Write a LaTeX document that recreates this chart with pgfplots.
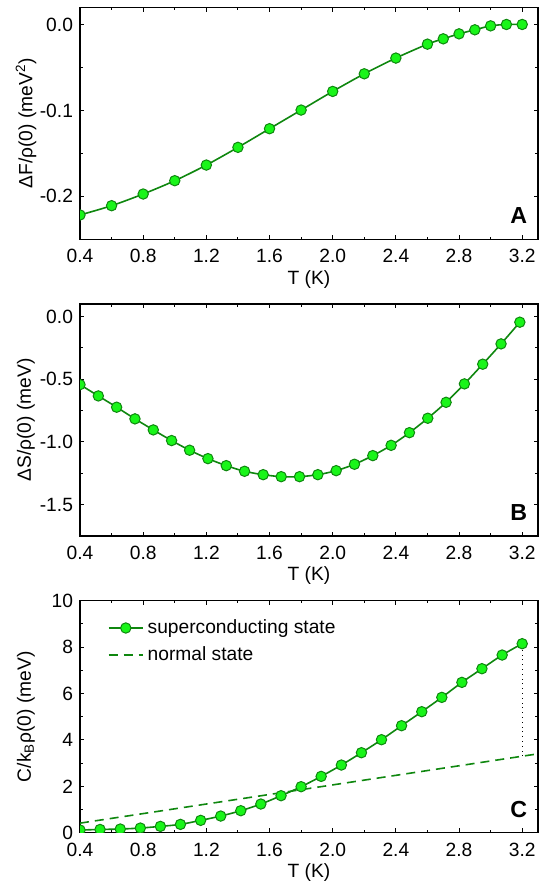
\documentclass[border=0pt]{standalone}
\usepackage{fontspec}
\setmainfont{Liberation Sans}
\usepackage{pgfplots}
\pgfplotsset{compat=1.18}
\definecolor{mfill}{RGB}{25,245,25}
\definecolor{mline}{RGB}{15,135,15}
\newcommand{\fs}{\fontsize{9.6}{11.5}\selectfont}
\tikzset{plabel/.style={anchor=south east, font=\bfseries\fontsize{11.6}{13}\selectfont, inner sep=0pt}}
\pgfplotsset{
  panel/.style={
    scale only axis, width=229pt, height=116pt,
    anchor=north west,
    xmin=0.4, xmax=3.3,
    xtick={0.4,0.8,1.2,1.6,2.0,2.4,2.8,3.2},
    minor x tick num=1, minor y tick num=1,
    tick align=inside,
    clip marker paths=true,
    major tick length=2.2pt, minor tick length=1.3pt,
    every tick/.style={black, line width=0.5pt},
    axis line style={line width=0.65pt},
    /pgf/number format/assume math mode=true,
    xticklabel style={font=\fs, yshift=-1.5pt, /pgf/number format/.cd, fixed, fixed zerofill, precision=1},
    yticklabel style={font=\fs},
    xlabel={T (K)},
    xlabel style={font=\fs, at={(axis description cs:0.5,0)}, anchor=center, yshift=-20pt},
    ylabel style={font=\fs, at={(axis description cs:-0.118,0.5)}, anchor=center},
  },
  sc/.style={mline, line width=0.8pt, mark=*, mark size=2.6pt,
    mark options={fill=mfill, draw=mline, line width=0.5pt}},
}
\begin{document}
\begin{tikzpicture}
\useasboundingbox (0,0) rectangle (271.5pt,-443pt);
% Panel A
\begin{axis}[panel, at={(40pt,-3.65pt)},
  ymin=-0.25, ymax=0.02, ytick={-0.2,-0.1,0},
  yticklabel style={/pgf/number format/.cd, fixed, fixed zerofill, precision=1},
  ylabel={ΔF/ρ(0) (meV\textsuperscript{2})}]
\addplot[sc, smooth] coordinates {
(0.4,-0.2217) (0.6,-0.2109) (0.8,-0.1973) (1.0,-0.1818) (1.2,-0.1636)
(1.4,-0.1430) (1.6,-0.1213) (1.8,-0.0996) (2.0,-0.0779) (2.2,-0.0574)
(2.4,-0.0391) (2.6,-0.0229) (2.7,-0.0167) (2.8,-0.0109) (2.9,-0.0062)
(3.0,-0.0016) (3.1,0.0) (3.2,0.0)};
\node[plabel] at (rel axis cs:0.977,0.065) {A};
\end{axis}
% Panel B
\begin{axis}[panel, at={(40pt,-152pt)},
  ymin=-1.75, ymax=0.1, ytick={-1.5,-1.0,-0.5,0},
  yticklabel style={/pgf/number format/.cd, fixed, fixed zerofill, precision=1},
  ylabel={ΔS/ρ(0) (meV)}]
\addplot[sc, smooth] coordinates {
(0.400,-0.543) (0.516,-0.633) (0.632,-0.723) (0.748,-0.816) (0.864,-0.904)
(0.980,-0.989) (1.094,-1.066) (1.210,-1.133) (1.326,-1.189) (1.442,-1.234)
(1.560,-1.261) (1.674,-1.277) (1.790,-1.277) (1.906,-1.261) (2.022,-1.229)
(2.138,-1.178) (2.254,-1.109) (2.370,-1.027) (2.486,-0.926) (2.602,-0.811)
(2.718,-0.684) (2.834,-0.537) (2.950,-0.380) (3.066,-0.218) (3.185,-0.045)};
\node[plabel] at (rel axis cs:0.977,0.065) {B};
\end{axis}
% Panel C
\begin{axis}[panel, at={(40pt,-300.35pt)},
  ymin=0, ymax=10, ytick={0,2,4,6,8,10},
  ylabel={C/k\textsubscript{B}ρ(0) (meV)},
  legend style={draw=none, fill=none, font=\fs, at={(axis description cs:0.047,0.955)}, anchor=north west, row sep=1pt},
  legend cell align=left]
\addplot[mline, line width=0.8pt, dash pattern=on 4.5pt off 3pt, forget plot] coordinates {(0.4,0.412) (3.3,3.40)};
\addplot[black, line width=0.4pt, dotted, forget plot] coordinates {(3.2,3.30) (3.2,8.10)};
\addplot[sc, smooth] coordinates {
(0.400,0.115) (0.527,0.140) (0.655,0.158) (0.782,0.201) (0.909,0.273)
(1.036,0.359) (1.164,0.532) (1.291,0.718) (1.418,0.948) (1.545,1.236)
(1.673,1.595) (1.800,1.983) (1.927,2.428) (2.055,2.917) (2.182,3.448)
(2.309,4.009) (2.436,4.612) (2.564,5.216) (2.691,5.833) (2.818,6.480)
(2.945,7.069) (3.073,7.658) (3.200,8.147)};
\addlegendentry{superconducting state}
\addlegendimage{mline, line width=0.8pt, dash pattern=on 4.5pt off 3pt}
\addlegendentry{normal state}
\node[plabel] at (rel axis cs:0.977,0.065) {C};
\end{axis}
\end{tikzpicture}
\end{document}
